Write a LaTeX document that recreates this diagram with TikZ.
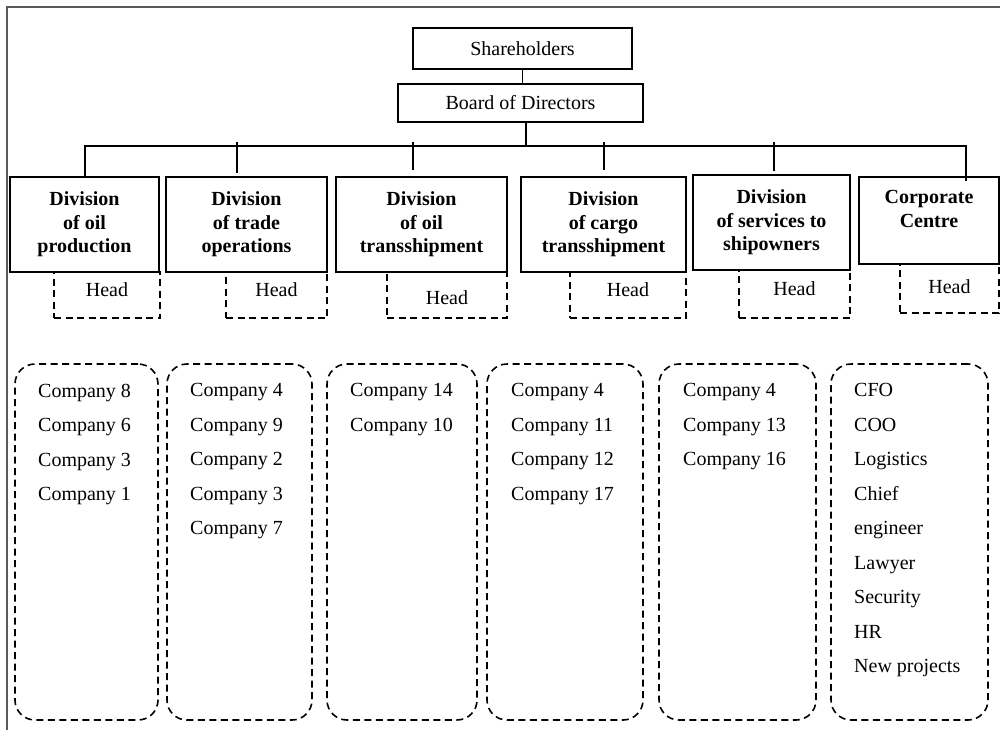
\documentclass[tikz,border=0pt]{standalone}
\usepackage{fontspec}
\setmainfont{Liberation Serif}
\usetikzlibrary{calc}
\begin{document}
\begin{tikzpicture}[x=1pt,y=-1pt,
  solidbox/.style={draw, line width=1.6pt, rectangle, inner sep=0pt},
  topbox/.style={solidbox, font=\fontsize{20}{24}\selectfont},
  divbox/.style={solidbox, font=\fontsize{20}{23.5}\selectfont\bfseries, align=center, minimum height=95pt},
  dsh/.style={line width=1.6pt, dash pattern=on 7pt off 4.5pt},
  headbox/.style={draw, dsh, inner sep=0pt, font=\fontsize{20}{24}\selectfont, text height=14pt, text depth=12pt},
  colbox/.style={draw, dsh, rounded corners=20pt, inner sep=0pt, minimum height=356pt},
  listtext/.style={anchor=north west, inner sep=0pt, align=left, font=\fontsize{20}{34.5}\selectfont},
  conn/.style={line width=1.6pt}
]
\useasboundingbox (0,0) rectangle (1000,730);
\draw[black!65, line width=1.3pt] (7,730) -- (7,7) -- (1000,7);

% top
\node[topbox, minimum width=219pt, minimum height=41pt] (sh) at (522.5,48.5) {Shareholders};
\node[topbox, minimum width=245pt, minimum height=38pt] (bd) at (520.5,103) {Board of Directors};

% divisions
\node[divbox, minimum width=149pt] (d1) at (84.5,224.5) {Division\\of oil\\production};
\node[divbox, minimum width=161pt] (d2) at (246.5,224.5) {Division\\of trade\\operations};
\node[divbox, minimum width=171pt] (d3) at (421.5,224.5) {Division\\of oil\\transshipment};
\node[divbox, minimum width=165pt] (d4) at (603.5,224.5) {Division\\of cargo\\transshipment};
\node[divbox, minimum width=157pt] (d5) at (771.5,222.5) {Division\\of services to\\shipowners};
\node[divbox, minimum width=140pt, minimum height=87pt] (cc) at (929,220.5) {Corporate\\Centre\\\mbox{}};

% connectors
\coordinate (busL) at (85,146);
\coordinate (busR) at (966,146);
\draw[conn] (sh.south) -- (sh.south |- bd.north);
\draw[conn] ([xshift=5.5pt]bd.south) -- ([xshift=5.5pt]bd.south |- busL);
\draw[conn] (d1.north -| busL) -- (busL) -- (busR) -- ($(busR |- cc.north)+(0,5)$);
\coordinate (t2a) at (237,142); \coordinate (t2b) at (237,173);
\coordinate (t3a) at (413,142); \coordinate (t3b) at (413,170);
\coordinate (t4a) at (604,142); \coordinate (t4b) at (604,170);
\coordinate (t5a) at (774,142); \coordinate (t5b) at (774,171);
\draw[conn] (t2a) -- (t2b);
\draw[conn] (t3a) -- (t3b);
\draw[conn] (t4a) -- (t4b);
\draw[conn] (t5a) -- (t5b);

% heads
\node[headbox, minimum width=106pt, minimum height=46pt] (h1) at (107,295) {Head};
\node[headbox, minimum width=101pt, minimum height=46pt] (h2) at (276.5,295) {Head};
\node[headbox, minimum width=120pt, minimum height=46pt, text height=32pt, text depth=14pt] (h3) at (447,295) {Head};
\node[headbox, minimum width=116pt, minimum height=46pt] (h4) at (628,295) {Head};
\node[headbox, minimum width=111pt, minimum height=48pt] (h5) at (794.5,294) {Head};
\node[headbox, minimum width=99pt, minimum height=49pt, text height=21pt, text depth=12pt] (h6) at (949.5,288.5) {Head};

% company columns
\node[colbox, minimum width=143pt] (c1) at (86.5,542) {};
\node[colbox, minimum width=145pt] (c2) at (239.5,542) {};
\node[colbox, minimum width=150pt] (c3) at (402,542) {};
\node[colbox, minimum width=156pt] (c4) at (565,542) {};
\node[colbox, minimum width=157pt] (c5) at (737.5,542) {};
\node[colbox, minimum width=157pt] (c6) at (909.5,542) {};

\node[listtext] (l1) at (38,383.5) {Company 8\\Company 6\\Company 3\\Company 1};
\node[listtext] (l2) at (190,383.5) {Company 4\\Company 9\\Company 2\\Company 3\\Company 7};
\node[listtext] (l3) at (350,383.5) {Company 14\\Company 10};
\node[listtext] (l4) at (511,383.5) {Company 4\\Company 11\\Company 12\\Company 17};
\node[listtext] (l5) at (683,383.5) {Company 4\\Company 13\\Company 16};
\node[listtext] (l6) at (854,383.5) {CFO\\COO\\Logistics\\Chief\\engineer\\Lawyer\\Security\\HR\\New projects};
\end{tikzpicture}
\end{document}
